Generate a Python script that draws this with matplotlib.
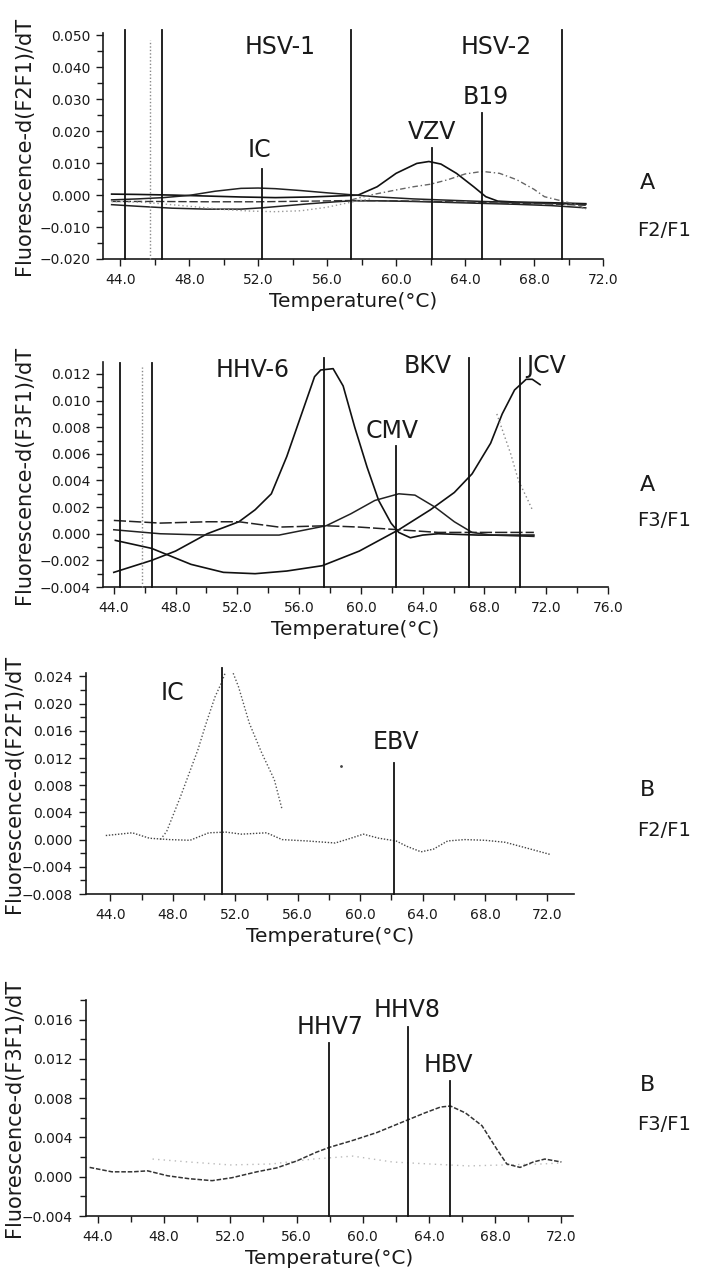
import matplotlib
matplotlib.use('Agg')
import matplotlib.pyplot as plt
from matplotlib.ticker import MultipleLocator, FuncFormatter

plt.rcParams['font.family'] = ['DejaVu Sans']

# ---------------- data ----------------
# Panel 1 (A, F2/F1)
p1_vzv_T = [43.5, 45, 47, 49, 51, 53, 55, 57, 57.8, 58.9, 60.0, 61.2, 61.9, 62.6, 63.5, 64.5, 65.2, 65.9, 67, 69, 71]
p1_vzv_V = [0.0003, 0.0002, 0.0, -0.0003, -0.0006, -0.0008, -0.0006, -0.0002, 0.0000, 0.0026, 0.0068, 0.0099, 0.0105,
            0.0097, 0.0068, 0.0026, -0.0005, -0.0019, -0.0022, -0.0024, -0.0027]
p1_ic_T = [43.5, 45, 46.5, 48, 49.5, 51, 52, 53, 54.5, 56, 57.4, 59, 61, 63, 65, 67, 69, 71]
p1_ic_V = [-0.0015, -0.0012, -0.0008, -0.0001, 0.0012, 0.0021, 0.0022, 0.0020, 0.0014, 0.0007, 0.0001, -0.0006,
           -0.0012, -0.0016, -0.0020, -0.0023, -0.0026, -0.0029]
p1_low_T = [43.5, 45, 47, 49, 51, 52.2, 53.5, 55, 56.5, 57.4, 59, 61, 63, 65, 67, 69, 71]
p1_low_V = [-0.0030, -0.0035, -0.0041, -0.0044, -0.0044, -0.0040, -0.0034, -0.0027, -0.0021, -0.0018, -0.0018,
            -0.0020, -0.0023, -0.0026, -0.0029, -0.0033, -0.0040]
p1_base_T = [43.5, 46, 49, 52, 55, 57.4, 60, 63, 66, 69, 71]
p1_base_V = [-0.0020, -0.0020, -0.0021, -0.0021, -0.0019, -0.0017, -0.0018, -0.0021, -0.0025, -0.0028, -0.0032]
p1_grey_T = [43.5, 45.5, 48, 50, 51.5, 53, 54.5, 56, 57.4, 58.5]
p1_grey_V = [-0.0020, -0.0023, -0.0035, -0.0045, -0.0050, -0.0052, -0.0049, -0.0038, -0.0022, -0.0012]
p1_b19_T = [57.4, 58.5, 60, 61, 62, 63, 64, 65, 66, 67, 68, 68.6, 69.5, 70.5, 71]
p1_b19_V = [-0.0015, 0.0000, 0.0016, 0.0026, 0.0034, 0.0048, 0.0066, 0.0074, 0.0068, 0.0048, 0.0018, -0.0005,
            -0.0017, -0.0030, -0.0045]
p1_full_lines = [44.3, 46.4, 57.4, 69.6]
p1_full_top = 0.0516
p1_dot_line = 45.7
p1_dot_top = 0.0485
p1_marker_lines = [52.2, 62.1, 65.0]
p1_marker_tops = [0.0081, 0.0147, 0.0256]
p1_labels = ['HSV-1', 'HSV-2', 'B19', 'VZV', 'IC']
p1_label_T = [53.3, 65.8, 65.2, 62.1, 52.1]
p1_label_V = [0.0463, 0.0463, 0.0306, 0.0197, 0.0141]

# Panel 2 (A, F3/F1)
p2_hhv6_T = [44.0, 46.45, 48.0, 50.05, 52.1, 53.15, 54.2, 55.2, 56.25, 57.0, 57.4, 58.2, 58.85, 59.6, 60.4, 61.15,
             61.95, 62.45, 63.2, 64.0, 65.0, 67.6, 71.2]
p2_hhv6_V = [-0.0029, -0.0020, -0.0013, 0.0000, 0.0009, 0.0018, 0.0030, 0.0058, 0.0093, 0.0118, 0.0123, 0.0124,
             0.0111, 0.0080, 0.0050, 0.0025, 0.0008, 0.0001, -0.0003, -0.0001, 0.0000, -0.0001, -0.0001]
p2_jcv_T = [44.1, 46.45, 49.0, 51.1, 53.15, 55.2, 57.5, 59.9, 62.45, 64.5, 66.05, 67.2, 68.4, 69.15, 69.95, 70.7,
            71.1, 71.6]
p2_jcv_V = [-0.0005, -0.0011, -0.0023, -0.0029, -0.0030, -0.0028, -0.0024, -0.0013, 0.0003, 0.0018, 0.0031, 0.0045,
            0.0068, 0.0090, 0.0108, 0.0116, 0.0116, 0.0112]
p2_cmv_T = [44.0, 47.0, 50.05, 54.7, 57.75, 59.35, 60.9, 62.45, 63.5, 64.8, 66.05, 67.2, 68.4, 71.2]
p2_cmv_V = [0.0003, 0.0000, -0.0001, -0.0001, 0.0006, 0.0015, 0.0025, 0.0030, 0.0029, 0.0020, 0.0009, 0.0001,
            -0.0001, -0.0002]
p2_flat_T = [44.0, 47.0, 50.05, 52.1, 54.7, 57.75, 59.9, 62.45, 65.0, 71.2]
p2_flat_V = [0.0010, 0.0008, 0.0009, 0.0009, 0.0005, 0.0006, 0.0005, 0.0003, 0.0001, 0.0001]
p2_grey_T = [68.8, 69.7, 70.2, 70.7, 71.1]
p2_grey_V = [0.0090, 0.0060, 0.0040, 0.0028, 0.0018]
p2_full_lines = [44.4, 46.5]
p2_full_top = 0.0128
p2_dot_line = 45.8
p2_dot_top = 0.0125
p2_marker_lines = [57.6, 62.3, 67.0, 70.3]
p2_marker_tops = [0.0132, 0.0066, 0.0132, 0.0132]
p2_labels = ['HHV-6', 'CMV', 'BKV', 'JCV']
p2_label_T = [53.0, 62.0, 64.3, 72.0]
p2_label_V = [0.0123, 0.0077, 0.0126, 0.0126]

# Panel 3 (B, F2/F1)
p3_ic_T = [47.2, 47.6, 48.5, 49.6, 50.1, 50.7, 51.1, 51.6, 52.2, 52.9, 53.7, 54.5, 55.0]
p3_ic_V = [0.0000, 0.0012, 0.0064, 0.0132, 0.0169, 0.0210, 0.0230, 0.0260, 0.0225, 0.0171, 0.0127, 0.0088, 0.0044]
p3_base_T = [43.7, 45.4, 46.5, 47.8, 49.1, 50.3, 51.4, 52.4, 54.0, 55.0, 56.6, 58.4, 59.4, 60.2, 61.2, 62.3, 63.0,
             63.9, 64.7, 65.6, 66.7, 68.0, 69.3, 70.6, 72.2]
p3_base_V = [0.0006, 0.0010, 0.0002, 0.0000, -0.0001, 0.0010, 0.0011, 0.0008, 0.0010, 0.0000, -0.0002, -0.0005,
             0.0002, 0.0008, 0.0002, -0.0002, -0.0010, -0.0018, -0.0014, -0.0002, 0.0000, -0.0001, -0.0004,
             -0.0012, -0.0022]
p3_dot_T = [58.8]
p3_dot_V = [0.0108]
p3_marker_lines = [51.15, 62.15]
p3_marker_tops = [0.0252, 0.0112]
p3_labels = ['IC', 'EBV']
p3_label_T = [48.0, 62.3]
p3_label_V = [0.0215, 0.0143]

# Panel 4 (B, F3/F1)
p4_T = [43.5, 44.85, 46.1, 47.0, 48.2, 49.5, 50.9, 52.1, 53.6, 54.8, 56.0, 57.2, 58.0, 59.4, 60.85, 62.3, 63.75,
        64.7, 65.3, 66.2, 67.2, 68.1, 68.7, 69.5, 70.3, 71.0, 72.0]
p4_V = [0.00095, 0.0005, 0.0005, 0.0006, 0.0001, -0.0002, -0.0004, -0.0001, 0.0005, 0.0009, 0.0016, 0.0025, 0.0030,
        0.0037, 0.0045, 0.0055, 0.0065, 0.0071, 0.0072, 0.0065, 0.0052, 0.0028, 0.0013, 0.00095, 0.0015, 0.0018,
        0.0015]
p4_grey_T = [47.3, 49.5, 52.0, 54.5, 57.0, 59.4, 61.8, 64.0, 66.4, 68.5, 70.8, 72.0]
p4_grey_V = [0.0018, 0.0015, 0.0012, 0.0013, 0.0018, 0.0021, 0.0015, 0.0013, 0.0011, 0.0012, 0.0013, 0.0014]
p4_marker_lines = [57.98, 62.73, 65.24]
p4_marker_tops = [0.0136, 0.0152, 0.0098]
p4_labels = ['HHV7', 'HHV8', 'HBV']
p4_label_T = [58.0, 62.65, 65.2]
p4_label_V = [0.0153, 0.0170, 0.0114]

side_letters = ['A', 'A', 'B', 'B']
side_ratios = ['F2/F1', 'F3/F1', 'F2/F1', 'F3/F1']
ylabels = ['Fluorescence-d(F2F1)/dT', 'Fluorescence-d(F3F1)/dT',
           'Fluorescence-d(F2F1)/dT', 'Fluorescence-d(F3F1)/dT']

# ---------------- figure ----------------
W, H = 707, 1271
fig = plt.figure(figsize=(W / 100, H / 100), dpi=100)
INK = '#1a1a1a'

yfmt = FuncFormatter(lambda v, p: ('%.3f' % v).replace('-', '\u2212') if abs(v) > 1e-12 else '0.000')
xfmt = FuncFormatter(lambda v, p: '%.1f' % v)


def add_ax(l, r, t, b):
    return fig.add_axes([l / W, 1 - b / H, (r - l) / W, (b - t) / H])


def style(ax, xlim, ylim, ymaj, ymin, ylab, ylab_x_px, left_px):
    ax.set_xlim(*xlim)
    ax.set_ylim(*ylim)
    for s in ('top', 'right'):
        ax.spines[s].set_visible(False)
    for s in ('left', 'bottom'):
        ax.spines[s].set_linewidth(1.2)
        ax.spines[s].set_color(INK)
    ax.xaxis.set_major_locator(MultipleLocator(4))
    ax.xaxis.set_minor_locator(MultipleLocator(2))
    ax.yaxis.set_major_locator(MultipleLocator(ymaj))
    ax.yaxis.set_minor_locator(MultipleLocator(ymin))
    ax.xaxis.set_major_formatter(xfmt)
    ax.yaxis.set_major_formatter(yfmt)
    ax.tick_params(which='both', direction='out', width=1.0, colors=INK)
    ax.tick_params(which='major', length=5, labelsize=10, pad=4)
    ax.tick_params(axis='x', which='major', pad=5)
    ax.tick_params(which='minor', length=4)
    ax.set_xlabel('Temperature(°C)', fontsize=14.5, labelpad=4, color=INK)
    ax.set_ylabel(ylab, fontsize=15, color=INK)
    pos = ax.get_position()
    # ylab_x_px marks the right edge of the rotated label
    ax.yaxis.set_label_coords((ylab_x_px - left_px) / (pos.width * W), 0.5)


def vlines(ax, xs, tops, ymin, ls='-', color='#111111', lw=1.3):
    for x, t in zip(xs, tops):
        ax.plot([x, x], [ymin, t], color=color, lw=lw, ls=ls, clip_on=False, zorder=3)


def labels(ax, names, xs, ys, fs=17):
    for n, x, y in zip(names, xs, ys):
        ax.text(x, y, n, ha='center', va='center', fontsize=fs, color=INK, clip_on=False)


# Panel 1
ax1 = add_ax(103, 603, 33, 259)
ax1.plot(p1_vzv_T, p1_vzv_V, color='#111111', lw=1.2)
ax1.plot(p1_ic_T, p1_ic_V, color='#222222', lw=1.1)
ax1.plot(p1_low_T, p1_low_V, color='#222222', lw=1.1)
ax1.plot(p1_base_T, p1_base_V, color='#333333', lw=1.0, ls=(0, (6, 2)))
ax1.plot(p1_grey_T, p1_grey_V, color='#999999', lw=1.0, ls=(0, (1, 2)))
ax1.plot(p1_b19_T, p1_b19_V, color='#666666', lw=1.0, ls=(0, (4, 2, 1, 2)))
vlines(ax1, p1_full_lines, [p1_full_top] * len(p1_full_lines), -0.020)
vlines(ax1, [p1_dot_line], [p1_dot_top], -0.020, ls=(0, (1, 1.5)), color='#888888', lw=1.0)
vlines(ax1, p1_marker_lines, p1_marker_tops, -0.020)
labels(ax1, p1_labels, p1_label_T, p1_label_V)
style(ax1, (43.0, 72.0), (-0.020, 0.0507), 0.010, 0.005, ylabels[0], 34, 103)

# Panel 2
ax2 = add_ax(103, 608, 362, 587)
ax2.plot(p2_hhv6_T, p2_hhv6_V, color='#111111', lw=1.2)
ax2.plot(p2_jcv_T, p2_jcv_V, color='#111111', lw=1.2)
ax2.plot(p2_cmv_T, p2_cmv_V, color='#222222', lw=1.1)
ax2.plot(p2_flat_T, p2_flat_V, color='#222222', lw=1.1, ls=(0, (8, 2)))
ax2.plot(p2_grey_T, p2_grey_V, color='#888888', lw=1.0, ls=(0, (1, 2)))
vlines(ax2, p2_full_lines, [p2_full_top] * len(p2_full_lines), -0.004)
vlines(ax2, [p2_dot_line], [p2_dot_top], -0.004, ls=(0, (1, 1.5)), color='#888888', lw=1.0)
vlines(ax2, p2_marker_lines, p2_marker_tops, -0.004)
labels(ax2, p2_labels, p2_label_T, p2_label_V)
style(ax2, (43.3, 76.0), (-0.004, 0.0129), 0.002, 0.001, ylabels[1], 34, 103)

# Panel 3
ax3 = add_ax(85.5, 574, 673, 894)
ax3.plot(p3_ic_T, p3_ic_V, color='#555555', lw=1.0, ls=(0, (1, 1.5)))
ax3.plot(p3_base_T, p3_base_V, color='#444444', lw=1.0, ls=(0, (1, 1.2)))
ax3.plot(p3_dot_T, p3_dot_V, ls='none', marker='.', ms=2, color='#444444')
vlines(ax3, p3_marker_lines, p3_marker_tops, -0.008)
labels(ax3, p3_labels, p3_label_T, p3_label_V)
style(ax3, (42.4, 73.7), (-0.008, 0.0245), 0.004, 0.002, ylabels[2], 24, 85.5)

# Panel 4
ax4 = add_ax(85.5, 573, 1000, 1216)
ax4.plot(p4_grey_T, p4_grey_V, color='#bbbbbb', lw=1.0, ls=(0, (1, 3)))
ax4.plot(p4_T, p4_V, color='#333333', lw=1.1, ls=(0, (3, 1.2)))
vlines(ax4, p4_marker_lines, p4_marker_tops, -0.004)
labels(ax4, p4_labels, p4_label_T, p4_label_V)
style(ax4, (43.25, 72.7), (-0.004, 0.018), 0.004, 0.002, ylabels[3], 24, 85.5)

# Side annotations
letter_y = [183, 485, 790, 1085]
ratio_y = [230, 520, 830, 1125]
for L, R, ly, ry in zip(side_letters, side_ratios, letter_y, ratio_y):
    fig.text(640 / W, 1 - ly / H, L, fontsize=16, ha='left', va='center', color=INK)
    fig.text(637 / W, 1 - ry / H, R, fontsize=14, ha='left', va='center', color=INK)

fig.savefig('out.png', dpi=100)
